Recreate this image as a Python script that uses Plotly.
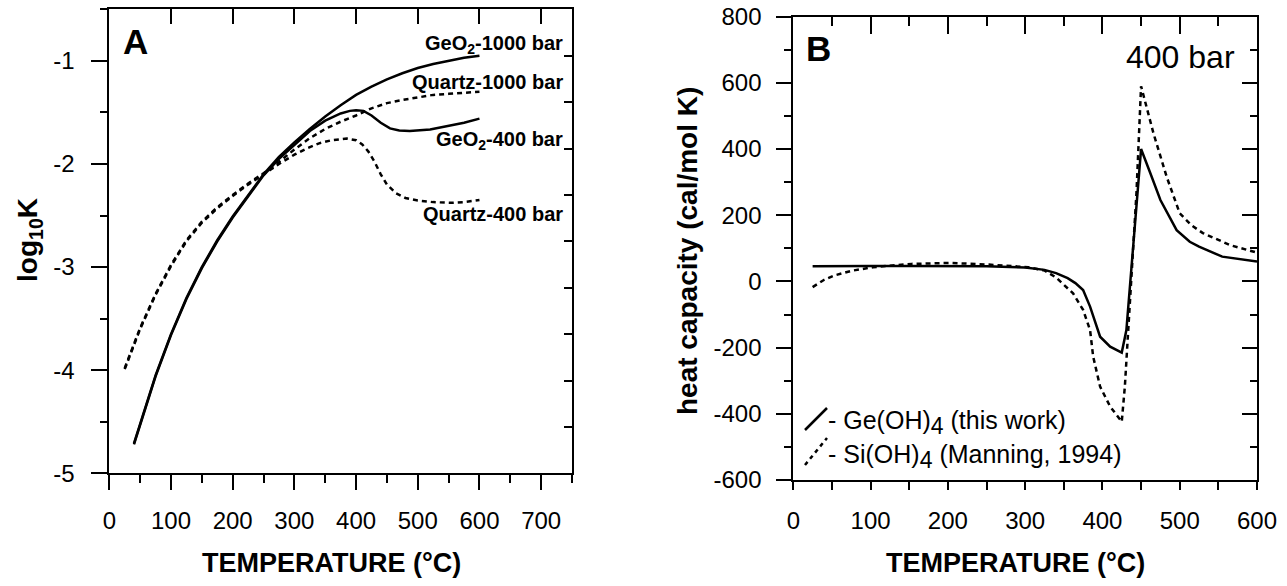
import plotly.graph_objects as go

# ---------------- data: panel A (log10 K vs temperature) ----------------
T_ge1000 = [40, 50, 75, 100, 125, 150, 175, 200, 225, 250, 275, 300, 325, 350, 375, 400,
            425, 450, 475, 500, 525, 550, 575, 600]
logk_ge1000 = [-4.71, -4.52, -4.05, -3.65, -3.30, -3.00, -2.74, -2.51, -2.30, -2.10, -1.93,
               -1.79, -1.66, -1.54, -1.43, -1.33, -1.25, -1.18, -1.12, -1.07, -1.03, -1.00,
               -0.97, -0.95]

T_ge400 = [40, 50, 75, 100, 125, 150, 175, 200, 225, 250, 275, 300, 325, 350, 375, 390,
           400, 412, 425, 440, 455, 470, 487, 520, 550, 575, 600]
logk_ge400 = [-4.72, -4.53, -4.06, -3.66, -3.31, -3.01, -2.75, -2.52, -2.31, -2.11, -1.95,
              -1.81, -1.68, -1.58, -1.51, -1.485, -1.478, -1.485, -1.53, -1.60, -1.655,
              -1.675, -1.68, -1.665, -1.63, -1.60, -1.56]

T_qz1000 = [25, 35, 50, 75, 100, 125, 150, 175, 200, 225, 250, 275, 300, 325, 350, 375, 400,
            425, 450, 475, 500, 525, 550, 575, 600]
logk_qz1000 = [-3.98, -3.82, -3.59, -3.26, -2.98, -2.74, -2.56, -2.42, -2.30, -2.19, -2.09,
               -1.98, -1.86, -1.75, -1.66, -1.59, -1.53, -1.46, -1.41, -1.38, -1.355, -1.33,
               -1.32, -1.31, -1.30]

T_qz400 = [25, 35, 50, 75, 100, 125, 150, 175, 200, 225, 250, 275, 300, 320, 340, 360, 385,
           400, 410, 420, 430, 440, 450, 465, 480, 500, 525, 555, 575, 600]
logk_qz400 = [-3.99, -3.83, -3.60, -3.27, -2.99, -2.75, -2.57, -2.43, -2.31, -2.20, -2.10,
              -2.00, -1.91, -1.85, -1.80, -1.77, -1.753, -1.77, -1.81, -1.88, -1.98, -2.10,
              -2.20, -2.285, -2.33, -2.355, -2.37, -2.377, -2.37, -2.35]

# ---------------- data: panel B (heat capacity at 400 bar) ----------------
T_geoh4 = [25, 50, 100, 150, 200, 250, 300, 325, 340, 355, 365, 375, 384, 397, 410, 425,
           431, 441, 450, 462, 475, 496, 513, 525, 555, 600]
cp_geoh4 = [46, 47, 47, 47, 47, 46, 42, 35, 25, 10, -5, -26, -76, -167, -197, -215,
            -147, 155, 400, 327, 246, 155, 120, 105, 75, 60]

T_sioh4 = [25, 40, 53, 75, 103, 153, 203, 253, 304, 325, 340, 362, 375, 384, 388, 397, 410,
           425, 429, 433.5, 438, 444, 450, 466, 483, 500, 515, 530, 565, 600]
cp_sioh4 = [-17, 5, 18, 32, 43, 53, 56, 51, 43, 33, 12, -36, -86, -147, -227, -318, -378,
            -424, -318, -147, 55, 266, 590, 448, 317, 206, 170, 146, 110, 87]

# ---------------- ticks / labels ----------------
xticks_A = [0, 100, 200, 300, 400, 500, 600, 700]
yticks_A = [-5, -4, -3, -2, -1]
yticktext_A = ["-5", "-4", "-3", "-2", "-1"]
xticks_B = [0, 100, 200, 300, 400, 500, 600]
yticks_B = [-600, -400, -200, 0, 200, 400, 600, 800]
yticktext_B = ["-600", "-400", "-200", "0", "200", "400", "600", "800"]

series_labels_A = ["GeO<sub>2</sub>-1000 bar", "Quartz-1000 bar", "GeO<sub>2</sub>-400 bar",
                   "Quartz-400 bar"]
legend_labels_B = ["- Ge(OH)<sub><span style='font-size:23px'>4</span></sub> (this work)",
                   "- Si(OH)<sub><span style='font-size:23px'>4</span></sub> (Manning, 1994)"]

# ---------------- figure ----------------
W, H = 1287, 586
FONT = "Liberation Sans, Arial, sans-serif"


def px(x):
    return x / W


def py(y):
    return 1 - y / H


solid = dict(color="black", width=2.5)
dotted = dict(color="black", width=2.5, dash="5px,4px")

fig = go.Figure()
fig.add_trace(go.Scatter(x=T_ge1000, y=logk_ge1000, mode="lines", line=solid,
                         xaxis="x", yaxis="y", showlegend=False))
fig.add_trace(go.Scatter(x=T_ge400, y=logk_ge400, mode="lines", line=solid,
                         xaxis="x", yaxis="y", showlegend=False))
fig.add_trace(go.Scatter(x=T_qz1000, y=logk_qz1000, mode="lines", line=dotted,
                         xaxis="x", yaxis="y", showlegend=False))
fig.add_trace(go.Scatter(x=T_qz400, y=logk_qz400, mode="lines", line=dotted,
                         xaxis="x", yaxis="y", showlegend=False))

fig.add_trace(go.Scatter(x=T_geoh4, y=cp_geoh4, mode="lines", line=solid,
                         xaxis="x2", yaxis="y2", showlegend=False))
fig.add_trace(go.Scatter(x=T_sioh4, y=cp_sioh4, mode="lines", line=dotted,
                         xaxis="x2", yaxis="y2", showlegend=False))

# empty traces so the mirrored (overlay) axes are drawn
for xa, ya in [("x3", "y"), ("x", "y3"), ("x4", "y2"), ("x2", "y4")]:
    fig.add_trace(go.Scatter(x=[], y=[], xaxis=xa, yaxis=ya, showlegend=False,
                             hoverinfo="skip"))

tickfont = dict(family=FONT, size=24, color="black")
common = dict(showgrid=False, zeroline=False, showline=True, linecolor="black",
              linewidth=2, tickcolor="black", tickwidth=2)

fig.update_layout(
    width=W, height=H,
    margin=dict(l=0, r=0, t=0, b=0),
    paper_bgcolor="white", plot_bgcolor="white",
    font=dict(family=FONT, color="black"),
    xaxis=dict(domain=[px(109.3), px(572)], range=[0, 750], anchor="y",
               tickmode="array", tickvals=xticks_A, ticks="outside", ticklen=15,
               minor=dict(dtick=50, tick0=0, ticks="outside", ticklen=8,
                          tickcolor="black", tickwidth=2),
               tickfont=tickfont, ticklabelstandoff=10, automargin=False, **common),
    xaxis3=dict(overlaying="x", side="top", anchor="y", range=[0, 750],
                tickmode="array", tickvals=xticks_A[1:], ticks="inside", ticklen=15,
                showticklabels=False, automargin=False, **common),
    yaxis=dict(domain=[py(473.3), py(9.3)], range=[-5, -0.5], anchor="x",
               tickmode="array", tickvals=yticks_A, ticktext=yticktext_A,
               ticks="outside", ticklen=16,
               minor=dict(dtick=0.5, tick0=-5, ticks="outside", ticklen=7,
                          tickcolor="black", tickwidth=2),
               tickfont=tickfont, ticklabelstandoff=12, automargin=False, **common),
    yaxis3=dict(overlaying="y", side="right", anchor="x", range=[0, 10],
                tickmode="linear", tick0=0, dtick=1, ticks="inside", ticklen=8,
                showticklabels=False, automargin=False, **common),

    xaxis2=dict(domain=[px(793.3), px(1257)], range=[0, 600], anchor="y2",
                tickmode="array", tickvals=xticks_B, ticks="outside", ticklen=8,
                minor=dict(dtick=50, tick0=0, ticks="outside", ticklen=8,
                           tickcolor="black", tickwidth=2),
                tickfont=tickfont, ticklabelstandoff=10, automargin=False, **common),
    xaxis4=dict(overlaying="x2", side="top", anchor="y2", range=[0, 600],
                tickmode="array", tickvals=xticks_B, ticks="inside", ticklen=17,
                minor=dict(dtick=50, tick0=0, ticks="inside", ticklen=9,
                           tickcolor="black", tickwidth=2),
                showticklabels=False, automargin=False, **common),
    yaxis2=dict(domain=[py(480), py(16.7)], range=[-600, 800], anchor="x2",
                tickmode="array", tickvals=yticks_B, ticktext=yticktext_B,
                ticks="outside", ticklen=15,
                minor=dict(dtick=100, tick0=-600, ticks="outside", ticklen=7,
                           tickcolor="black", tickwidth=2),
                tickfont=tickfont, ticklabelstandoff=10, automargin=False, **common),
    yaxis4=dict(overlaying="y2", side="right", anchor="x2", range=[-600, 800],
                tickmode="array", tickvals=yticks_B, ticks="inside", ticklen=15,
                minor=dict(dtick=100, tick0=-600, ticks="inside", ticklen=7,
                           tickcolor="black", tickwidth=2),
                showticklabels=False, automargin=False, **common),
)

ann = []
title_font = dict(family=FONT, size=27, color="black")
# axis titles
ann.append(dict(text="<b>TEMPERATURE (°C)</b>", x=px(331), y=py(563), xref="paper",
                yref="paper", xanchor="center", yanchor="middle", showarrow=False,
                font=title_font))
ann.append(dict(text="<b>TEMPERATURE (°C)</b>", x=px(1016), y=py(563), xref="paper",
                yref="paper", xanchor="center", yanchor="middle", showarrow=False,
                font=title_font))
ann.append(dict(text="<b>log<sub>10</sub>K</b>", x=px(29), y=py(240), xref="paper",
                yref="paper", xanchor="center", yanchor="middle", showarrow=False,
                textangle=-90, font=dict(family=FONT, size=28, color="black")))
ann.append(dict(text="<b>heat capacity (cal/mol K)</b>", x=px(687), y=py(251),
                xref="paper", yref="paper", xanchor="center", yanchor="middle",
                showarrow=False, textangle=-90,
                font=dict(family=FONT, size=28, color="black")))
# panel letters
ann.append(dict(text="<b>A</b>", x=px(135), y=py(42), xref="paper", yref="paper",
                xanchor="center", yanchor="middle", showarrow=False,
                font=dict(family=FONT, size=35, color="black")))
ann.append(dict(text="<b>B</b>", x=px(818), y=py(48), xref="paper", yref="paper",
                xanchor="center", yanchor="middle", showarrow=False,
                font=dict(family=FONT, size=35, color="black")))
ann.append(dict(text="400 bar", x=px(1237), y=py(57), xref="paper", yref="paper",
                xanchor="right", yanchor="middle", showarrow=False,
                font=dict(family=FONT, size=32, color="black")))
# series labels, panel A
for lab, yy in zip(series_labels_A, [44, 82, 140, 214]):
    ann.append(dict(text="<b>" + lab + "</b>", x=px(565), y=py(yy), xref="paper",
                    yref="paper", xanchor="right", yanchor="middle", showarrow=False,
                    font=dict(family=FONT, size=20, color="black")))
# legend texts, panel B
for lab, yy in zip(legend_labels_B, [422, 457]):
    ann.append(dict(text=lab, x=px(826), y=py(yy), xref="paper", yref="paper",
                    xanchor="left", yanchor="middle", showarrow=False,
                    font=dict(family=FONT, size=25, color="black")))
fig.update_layout(annotations=ann)

# legend key strokes (slanted lines)
fig.add_shape(type="line", xref="paper", yref="paper", x0=px(805), y0=py(430),
              x1=px(827), y1=py(408), line=dict(color="black", width=2.5))
fig.add_shape(type="line", xref="paper", yref="paper", x0=px(805), y0=py(465),
              x1=px(827), y1=py(438), line=dict(color="black", width=2.5, dash="4px,4px"))

fig.write_html("out.html")
